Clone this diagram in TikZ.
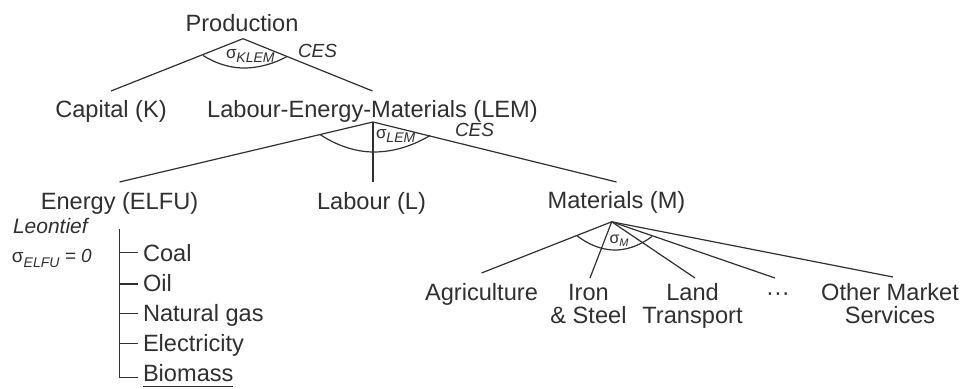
\documentclass[tikz,border=0pt]{standalone}
\usepackage{fontspec}
\setmainfont{Liberation Sans}
\definecolor{ink}{HTML}{303030}
\begin{document}
\begin{tikzpicture}[x=1pt,y=-1pt,
  lbl/.style={inner sep=0pt, outer sep=0pt, text=ink, font=\fontsize{23.6}{23.5}\selectfont, anchor=base},
  ann/.style={inner sep=0pt, outer sep=0pt, text=ink, font=\fontsize{19}{19}\selectfont\itshape, anchor=base west},
  sig/.style={inner sep=0pt, outer sep=0pt, text=ink, anchor=base west},
  conn/.style={draw=ink, line width=1.2pt},
  sagarc/.style={draw=ink, line width=1.2pt}]
\path[use as bounding box, fill=white] (0,0) rectangle (963,388);

% main labels
\node[lbl] (prod) at (242,31.7) {Production};
\node[lbl] (cap)  at (111,117.3) {Capital (K)};
\node[lbl] (lem)  at (372.5,117.3) {Labour-Energy-Materials (LEM)};
\node[lbl] (ene)  at (119.5,209.5) {Energy (ELFU)};
\node[lbl] (lab)  at (371.5,209.5) {Labour (L)};
\node[lbl] (mat)  at (616.5,208.5) {Materials (M)};
\node[lbl] (agr)  at (481.5,300) {Agriculture};
\node[lbl,align=center] (iron) at (588.5,323.5) {Iron\\\& Steel};
\node[lbl,align=center] (land) at (692.5,323.5) {Land\\Transport};
\node[lbl] (dots) at (778,300) {···};
\node[lbl,align=center] (oms) at (890,323.5) {Other Market\\Services};

% energy items
\node[lbl,anchor=base west] (coal) at (143,261.5) {Coal};
\node[lbl,anchor=base west] (oil)  at (143,291.5) {Oil};
\node[lbl,anchor=base west] (gas)  at (143,321.5) {Natural gas};
\node[lbl,anchor=base west] (elec) at (143,351.5) {Electricity};
\node[lbl,anchor=base west] (bio)  at (143,381.7) {Biomass};
\draw[conn] ([yshift=-5pt]bio.base west) -- ([yshift=-5pt]bio.base east);

% annotations
\node[ann] (cesP) at (298,57) {CES};
\node[ann] (cesL) at (455,136) {CES};
\node[ann,font=\fontsize{21}{21}\selectfont\itshape] (leon) at (13,233) {Leontief};
\node[sig] (sK) at (226,58) {{\fontsize{17}{17}\selectfont σ}{\fontsize{14}{14}\selectfont\itshape\raisebox{-4pt}{KLEM}}};
\node[sig] (sL) at (376,138) {{\fontsize{17}{17}\selectfont σ}{\fontsize{14}{14}\selectfont\itshape\raisebox{-4pt}{LEM}}};
\node[sig] (sM) at (609.5,243) {{\fontsize{16}{16}\selectfont σ}{\fontsize{11}{11}\selectfont\itshape\raisebox{-3pt}{M}}};
\node[sig] (sE) at (12,262) {{\fontsize{19}{19}\selectfont σ}{\fontsize{14}{14}\selectfont\itshape\raisebox{-5pt}{ELFU}}{\fontsize{19}{19}\selectfont\itshape\ = 0}};

% production level
\coordinate (pA) at ([xshift=1pt,yshift=-7pt]prod.base);
\draw[conn] ([yshift=26.3pt]cap.base) -- (pA) -- ([yshift=26.3pt]lem.base);
\draw[sagarc] (203,55.5) parabola bend (244,68) (287,56.5);

% LEM level
\coordinate (lA) at ([xshift=0.5pt,yshift=-4.7pt]lem.base);
\draw[conn] ([yshift=27.5pt]ene.base) -- (lA) -- ([yshift=26.5pt]mat.base);
\draw[conn] (lA) -- ([yshift=27.5pt]lA |- lab.base);
\draw[sagarc] (320,134.5) parabola bend (374,152) (430,135.5);

% materials level
\coordinate (mA) at ([xshift=-4.8pt,yshift=-13.3pt]mat.base);
\draw[conn] (mA) -- ([yshift=27pt]agr.base);
\draw[conn] (mA) -- ([xshift=1.5pt,yshift=45.5pt]iron.base);
\draw[conn] (mA) -- ([xshift=2.5pt,yshift=45.5pt]land.base);
\draw[conn] (mA) -- ([xshift=-3pt,yshift=22pt]dots.base);
\draw[conn] (mA) -- ([xshift=3pt,yshift=46.5pt]oms.base);
\draw[sagarc] (577,235.8) parabola bend (615,250) (652,236.5);

% energy bracket
\coordinate (eV) at ([yshift=-19.5pt]ene.base);
\draw[conn] (eV) |- ([xshift=-5pt,yshift=4pt]bio.base west);
\draw[conn] ([yshift=9pt]eV |- coal.base) -- ([xshift=-5pt,yshift=9pt]coal.base west);
\draw[conn] ([yshift=7.5pt]eV |- oil.base) -- ([xshift=-5pt,yshift=7.5pt]oil.base west);
\draw[conn] ([yshift=8.3pt]eV |- gas.base) -- ([xshift=-5pt,yshift=8.3pt]gas.base west);
\draw[conn] ([yshift=8.3pt]eV |- elec.base) -- ([xshift=-5pt,yshift=8.3pt]elec.base west);
\end{tikzpicture}
\end{document}
